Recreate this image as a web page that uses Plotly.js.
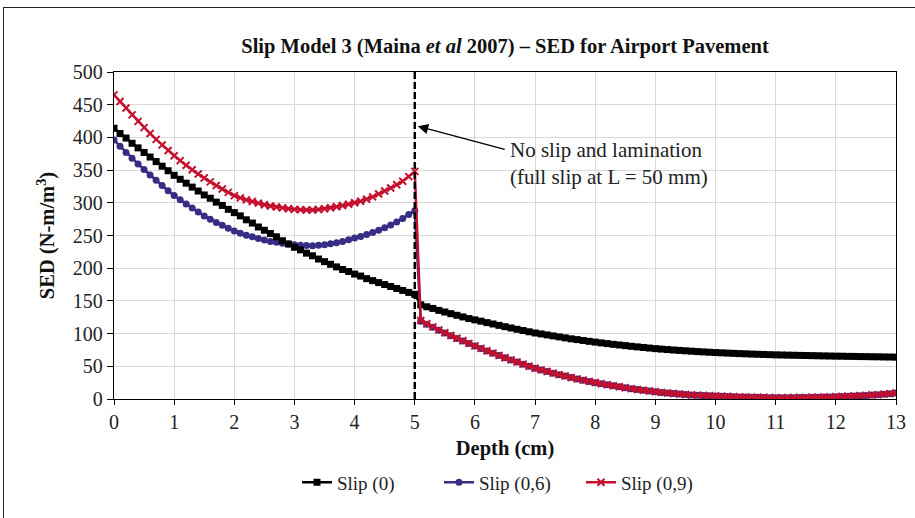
<!DOCTYPE html>
<html>
<head>
<meta charset="utf-8">
<script src="https://cdn.plot.ly/plotly-3.0.1.min.js"></script>
<style>
  html, body { margin: 0; padding: 0; background: #fff; }
  #wrap { position: relative; width: 915px; height: 518px; overflow: hidden; }
  #chart { position: absolute; left: 0; top: 0; width: 915px; height: 518px; }
  #frame { position: absolute; left: 3px; top: 7px; width: 1000px; height: 1000px;
           border-left: 1.5px solid #222; border-top: 1.5px solid #222; pointer-events: none; }
</style>
</head>
<body>
<div id="wrap"><div id="chart"></div><div id="frame"></div></div>
<script>
// Depth (cm)
const depth = [
  0.0,0.1,0.2,0.3,0.4,0.5,0.6,0.7,0.8,0.9,1.0,1.1,1.2,1.3,1.4,1.5,1.6,1.7,1.8,1.9,
  2.0,2.1,2.2,2.3,2.4,2.5,2.6,2.7,2.8,2.9,3.0,3.1,3.2,3.3,3.4,3.5,3.6,3.7,3.8,3.9,
  4.0,4.1,4.2,4.3,4.4,4.5,4.6,4.7,4.8,4.9,5.0,5.1,5.2,5.3,5.4,5.5,5.6,5.7,5.8,5.9,
  6.0,6.1,6.2,6.3,6.4,6.5,6.6,6.7,6.8,6.9,7.0,7.1,7.2,7.3,7.4,7.5,7.6,7.7,7.8,7.9,
  8.0,8.1,8.2,8.3,8.4,8.5,8.6,8.7,8.8,8.9,9.0,9.1,9.2,9.3,9.4,9.5,9.6,9.7,9.8,9.9,
  10.0,10.1,10.2,10.3,10.4,10.5,10.6,10.7,10.8,10.9,11.0,11.1,11.2,11.3,11.4,11.5,11.6,11.7,11.8,11.9,
  12.0,12.1,12.2,12.3,12.4,12.5,12.6,12.7,12.8,12.9,13.0
];

// SED (N-m/m^3), Slip (0)
const slip0 = [
  414,406,399,391,384,377,370,363,356,349,342,336,330,324,318,312,307,301,296,290,
  285,280,274,269,263,258,253,248,242,237,232,228,223,219,214,210,206,202,198,195,
  191,188,184,181,178,175,172,169,166,163,160,144,141,138.5,135.5,133,130.5,128,125.5,123,
  121,119,116.8,114.7,112.6,110.6,108.6,106.6,104.7,102.8,101,99.5,98,96.5,95,93.5,92,90.8,89.5,88.2,
  87,85.8,84.7,83.6,82.6,81.6,80.6,79.7,78.8,77.9,77,76.3,75.6,74.9,74.3,73.7,73.1,72.5,72,71.5,
  71,70.6,70.2,69.8,69.4,69.1,68.7,68.4,68.1,67.8,67.5,67.3,67.1,66.9,66.7,66.5,66.3,66.1,65.9,65.7,
  65.5,65.4,65.2,65.1,64.9,64.8,64.6,64.5,64.3,64.2,64
];

// Slip (0,6)
const slip06 = [
  396,386.5,377,368,359.5,351,342.5,334.5,326.5,318.5,311,304.5,298,292,286,280,275,270,265.5,261,
  257,253.5,250.5,248,245.5,243,241,239.5,238,237,236,235.2,234.7,234.5,235,236,237.5,239,241,243.5,
  246,248.5,251.5,254.5,258,262,266,270.5,276,282,288,119,114.2,109.6,105.1,100.8,96.6,92.6,88.7,84.8,
  81,77.2,73.5,69.9,66.4,63.0,59.7,56.4,53.2,50.1,47.0,44.4,41.9,39.5,37.2,35.0,32.8,30.7,28.7,26.8,
  25.0,23.3,21.7,20.1,18.6,17.2,15.8,14.5,13.3,12.1,11.0,10.0,9.1,8.3,7.5,6.8,6.2,5.7,5.2,4.8,
  4.5,4.2,3.8,3.5,3.2,2.9,2.7,2.5,2.3,2.1,2.0,2.0,2.0,2.1,2.2,2.3,2.5,2.7,2.9,3.2,
  3.5,3.8,4.2,4.6,5.0,5.5,6.0,6.6,7.3,8.1,9.0
];

// Slip (0,9)
const slip09 = [
  465,455,445,434.5,424.5,415,406,397,388.5,380,372,364.5,357.5,350.5,344,338,332,326.5,321,316,
  311,307.5,304.5,302,299.5,297,295.2,293.7,292.3,291,290,289.4,289,289,289.8,291,292.5,294,295.8,297.8,
  300,302.5,305.5,309,313.5,318,322.5,327.5,333,340,348,120,115,110.3,105.7,101.3,97.1,93,89,85,
  81.2,77.4,73.7,70.1,66.6,63.2,59.8,56.5,53.3,50.2,47.1,44.5,42.0,39.6,37.3,35.1,32.9,30.8,28.8,26.9,
  25.1,23.4,21.8,20.2,18.7,17.3,15.9,14.6,13.4,12.2,11.1,10.1,9.2,8.4,7.6,6.9,6.3,5.8,5.3,4.9,
  4.6,4.3,3.9,3.6,3.3,3.0,2.8,2.6,2.4,2.2,2.1,2.1,2.1,2.2,2.3,2.4,2.6,2.8,3.0,3.3,
  3.6,3.9,4.3,4.7,5.1,5.6,6.1,6.7,7.4,8.2,9.1
];

const seriesNames = ['Slip (0)', 'Slip (0,6)', 'Slip (0,9)'];
const xTicks = [0,1,2,3,4,5,6,7,8,9,10,11,12,13];
const yTicks = [0,50,100,150,200,250,300,350,400,450,500];
const interfaceDepth = [5];

const FONT = 'Liberation Serif, Times New Roman, serif';
const BLACK = '#000000', BLUE = '#372d84', RED = '#c4102e';

const traces = [
  { x: depth, y: slip06, name: seriesNames[1], type: 'scatter', mode: 'lines+markers',
    line: { color: BLUE, width: 2.5 }, marker: { symbol: 'circle', size: 7, color: BLUE },
    legendrank: 2 },
  { x: depth, y: slip0, name: seriesNames[0], type: 'scatter', mode: 'lines+markers',
    line: { color: BLACK, width: 2.5 }, marker: { symbol: 'square', size: 7, color: BLACK },
    legendrank: 1 },
  { x: depth, y: slip09, name: seriesNames[2], type: 'scatter', mode: 'lines+markers',
    line: { color: RED, width: 2.5 },
    marker: { symbol: 'x-thin-open', size: 7, color: RED, line: { color: RED, width: 2 } },
    legendrank: 3 }
];

const layout = {
  width: 915, height: 518,
  margin: { l: 114, r: 19, t: 72, b: 119 },
  paper_bgcolor: 'rgba(0,0,0,0)', plot_bgcolor: '#ffffff',
  font: { family: FONT, size: 19, color: '#222' },
  title: { text: '<b>Slip Model 3 (Maina <i>et al</i> 2007) – SED for Airport Pavement</b>',
           font: { family: FONT, size: 20.5, color: '#111' },
           x: 0.5, xref: 'paper', xanchor: 'center', y: 0.911, yref: 'container', yanchor: 'middle' },
  xaxis: {
    range: [0, 13], tickvals: xTicks, ticktext: xTicks.map(String),
    showgrid: true, gridcolor: '#d9d9d9', gridwidth: 1,
    showline: true, linecolor: '#000', linewidth: 1.3, mirror: true,
    ticks: 'outside', ticklen: 5, tickcolor: '#000', zeroline: false,
    tickfont: { family: FONT, size: 20, color: '#222' },
    title: { text: '<b>Depth (cm)</b>', font: { family: FONT, size: 20.5, color: '#111' }, standoff: 8 }
  },
  yaxis: {
    range: [0, 500], tickvals: yTicks, ticktext: yTicks.map(String),
    showgrid: true, gridcolor: '#d9d9d9', gridwidth: 1,
    showline: true, linecolor: '#000', linewidth: 1.3, mirror: true,
    ticks: 'outside', ticklen: 6, tickcolor: '#000', zeroline: false,
    tickfont: { family: FONT, size: 20, color: '#222' },
    title: { text: '<b>SED (N-m/m<sup>3</sup>)</b>', font: { family: FONT, size: 20.5, color: '#111' }, standoff: 12 }
  },
  showlegend: true,
  legend: { orientation: 'h', x: 0.234, xanchor: 'left', y: -0.255, yanchor: 'middle',
            font: { family: FONT, size: 19, color: '#222' }, bgcolor: 'rgba(0,0,0,0)',
            traceorder: 'normal', entrywidth: 97, entrywidthmode: 'pixels' },
  shapes: [
    { type: 'line', xref: 'x', yref: 'y', x0: interfaceDepth[0], x1: interfaceDepth[0], y0: 0, y1: 500,
      line: { color: '#000', width: 2.5, dash: '7px,3px' } }
  ],
  annotations: [
    { x: 5.05, y: 417, xref: 'x', yref: 'y', ax: 6.52, ay: 381, axref: 'x', ayref: 'y',
      text: '', showarrow: true, arrowhead: 2, arrowsize: 1.6, arrowwidth: 1.3, arrowcolor: '#000' },
    { x: 6.55, y: 360, xref: 'x', yref: 'y', xanchor: 'left', yanchor: 'middle', align: 'left',
      text: 'No slip and lamination<br>(full slip at L = 50 mm)', showarrow: false,
      font: { family: FONT, size: 21, color: '#222' } }
  ]
};

Plotly.newPlot('chart', traces, layout, { displayModeBar: false, staticPlot: true });
</script>
</body>
</html>
